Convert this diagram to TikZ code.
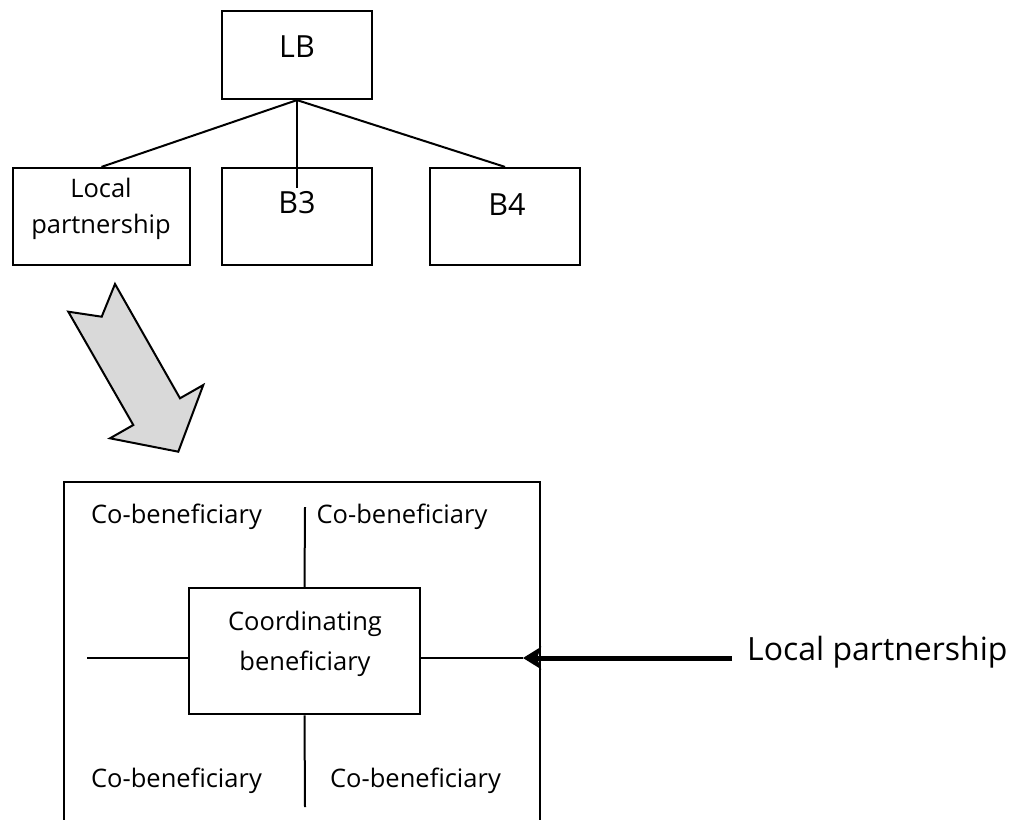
\documentclass[tikz,border=0pt]{standalone}
\usepackage{fontspec}
\setmainfont{Open Sans}
\usetikzlibrary{arrows.meta}
\begin{document}
\begin{tikzpicture}[x=1pt,y=-1pt,
  box/.style={draw,line width=2.2pt,inner sep=0pt,rectangle},
  conn/.style={line width=2pt},
  txt/.style={inner sep=0pt,anchor=base,font=\fontsize{25.5}{30}\selectfont},
  bigtxt/.style={inner sep=0pt,anchor=base,font=\fontsize{30.5}{36}\selectfont}]
\useasboundingbox (0,0) rectangle (1019,819);
\clip (0,0) rectangle (1019,819);
% top tree
\node[box,minimum width=150pt,minimum height=88pt] (LB) at (297,55) {};
\node[box,minimum width=177pt,minimum height=97pt] (lp) at (101.5,216.5) {};
\node[box,minimum width=150pt,minimum height=97pt] (B3) at (297,216.5) {};
\node[box,minimum width=150pt,minimum height=97pt] (B4) at (505,216.5) {};
\node[bigtxt] (tLB) at (297,57) {LB};
\node[bigtxt] (tB3) at (297,213) {B3};
\node[bigtxt] (tB4) at (507,215) {B4};
\node[txt] (tlp1) at (101,197) {Local};
\node[txt] (tlp2) at (101,233) {partnership};
\coordinate (b3end) at (297,188);
\draw[conn] (LB.south) -- (lp.north);
\draw[conn] (LB.south) -- (B4.north);
\draw[conn] (LB.south) -- (b3end);
% gray block arrow
\draw[line width=2pt,fill=gray!30,line join=miter]
  (115,284) -- (180,398.3) -- (203.3,385) -- (178.3,451.7) -- (110,438.3)
  -- (133.3,425) -- (68.3,311.7) -- (101.7,316.7) -- cycle;
% lower structure
\node[box,minimum width=476pt,minimum height=436pt] (big) at (302,700) {};
\node[box,minimum width=231pt,minimum height=126pt] (cbox) at (304.5,651.3) {};
\node[txt] (tc1) at (305,630) {Coordinating};
\node[txt] (tc2) at (305,670) {beneficiary};
\node[txt] (cul) at (176.5,523) {Co-beneficiary};
\node[txt] (cur) at (402,523) {Co-beneficiary};
\node[txt] (cll) at (176.5,787) {Co-beneficiary};
\node[txt] (clr) at (415.5,787) {Co-beneficiary};
\coordinate (ltop) at (305,507);
\coordinate (lbot) at (305,807);
\coordinate (lleft) at (87,658);
\coordinate (tip) at (523,658);
\draw[conn] (ltop) -- (cbox.north);
\draw[conn] (cbox.south) -- (lbot);
\draw[conn] (lleft) -- (lleft -| cbox.west);
\draw[conn] (tip -| cbox.east) -- (tip);
\node[anchor=base west,inner xsep=15pt,inner ysep=0pt,font=\fontsize{32}{36}\selectfont] (lpr) at (732,660) {Local partnership};
\draw[line width=5pt,-{Stealth[length=18pt,width=22pt,inset=4pt]}] (lpr.west |- tip) -- (tip);
\end{tikzpicture}
\end{document}
